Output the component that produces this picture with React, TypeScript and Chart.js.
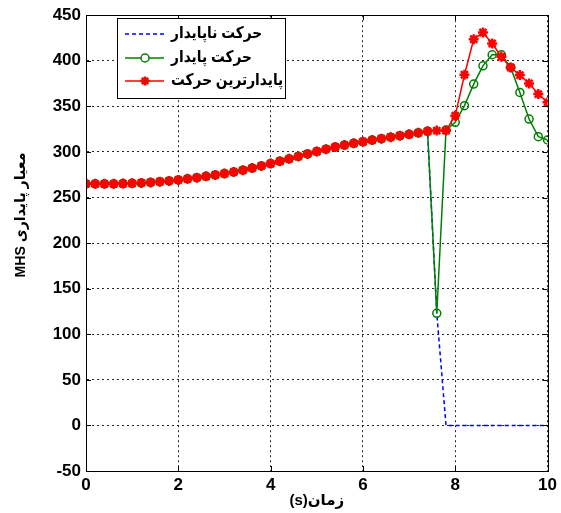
import React, { useEffect, useRef } from "react";
import { Chart, registerables } from "chart.js";

Chart.register(...registerables);

// time axis (s)
const times = [
  0, 0.2, 0.4, 0.6, 0.8, 1.0, 1.2, 1.4, 1.6, 1.8,
  2.0, 2.2, 2.4, 2.6, 2.8, 3.0, 3.2, 3.4, 3.6, 3.8,
  4.0, 4.2, 4.4, 4.6, 4.8, 5.0, 5.2, 5.4, 5.6, 5.8,
  6.0, 6.2, 6.4, 6.6, 6.8, 7.0, 7.2, 7.4, 7.6, 7.8,
  8.0, 8.2, 8.4, 8.6, 8.8, 9.0, 9.2, 9.4, 9.6, 9.8, 10.0,
];

// shared part of all three motions (t = 0 .. 7.4)
const sharedPrefix = [
  265, 265, 265, 265, 265.3, 265.6, 266, 266.6, 267.3, 268.2,
  269.3, 270.5, 271.8, 273.2, 274.7, 276.3, 278, 280, 282.3, 284.7,
  287.2, 289.8, 292.4, 295, 297.8, 300.5, 303, 305.4, 307.5, 309.4,
  311.2, 313, 314.6, 316.2, 317.8, 319.3, 321, 322.6,
];

// t = 7.6 .. 10
const unstableTail = [123, 0, 0, 0, 0, 0, 0, 0, 0, 0, 0, 0, 0];
const stableTail = [123, 324, 332.5, 350.8, 374.4, 394.5, 406.6, 406.6, 392.7, 365.3, 336.1, 316.8, 313.1];
const mostStableTail = [323.4, 323.4, 339.8, 384.7, 423.6, 431, 419, 404.4, 392.7, 384.3, 375.2, 363.5, 354.4];

const xTicks = [0, 2, 4, 6, 8, 10];
const yTicks = [-50, 0, 50, 100, 150, 200, 250, 300, 350, 400, 450];

const labelUnstable = "حرکت ناپایدار";
const labelStable = "حرکت پایدار";
const labelMostStable = "پایدارترین حرکت";
const xTitle = "زمان(s)";
const yTitle = "معیار پایداری MHS";

const BLUE = "#0000ff";
const GREEN = "#008000";
const RED = "#ff0000";
const FONT_FAMILY = '"Liberation Sans", "DejaVu Sans", Arial, sans-serif';

const toPoints = (ys: number[]) => ys.map((y, i) => ({ x: times[i], y }));

const overlayPlugin = {
  id: "matlabOverlay",
  afterDraw(chart: any) {
    const { ctx, chartArea, scales } = chart;
    const { left, right, top, bottom } = chartArea;
    ctx.save();
    // frame
    ctx.setLineDash([]);
    ctx.strokeStyle = "#000";
    ctx.lineWidth = 1;
    ctx.strokeRect(Math.round(left) + 0.5, Math.round(top) + 0.5, Math.round(right - left), Math.round(bottom - top));
    // inward ticks
    const tl = 5;
    ctx.beginPath();
    xTicks.forEach((v) => {
      const x = Math.round(scales.x.getPixelForValue(v)) + 0.5;
      ctx.moveTo(x, bottom);
      ctx.lineTo(x, bottom - tl);
      ctx.moveTo(x, top);
      ctx.lineTo(x, top + tl);
    });
    yTicks.forEach((v) => {
      const y = Math.round(scales.y.getPixelForValue(v)) + 0.5;
      ctx.moveTo(left, y);
      ctx.lineTo(left + tl, y);
      ctx.moveTo(right, y);
      ctx.lineTo(right - tl, y);
    });
    ctx.stroke();

    // legend
    const lx = 117, ly = 18, lw = 168, lh = 80;
    ctx.fillStyle = "#fff";
    ctx.fillRect(lx, ly, lw, lh);
    ctx.strokeStyle = "#000";
    ctx.lineWidth = 1;
    ctx.strokeRect(lx + 0.5, ly + 0.5, lw, lh);
    const rows = [
      { label: labelUnstable, color: BLUE, dash: [4, 3], marker: "none", y: 34 },
      { label: labelStable, color: GREEN, dash: [], marker: "circle", y: 58 },
      { label: labelMostStable, color: RED, dash: [], marker: "star", y: 81 },
    ];
    rows.forEach((r) => {
      ctx.strokeStyle = r.color;
      ctx.lineWidth = 1.5;
      ctx.setLineDash(r.dash);
      ctx.beginPath();
      ctx.moveTo(125, r.y);
      ctx.lineTo(164, r.y);
      ctx.stroke();
      ctx.setLineDash([]);
      const cx = 145;
      if (r.marker === "circle") {
        ctx.fillStyle = "#fff";
        ctx.beginPath();
        ctx.arc(cx, r.y, 4, 0, Math.PI * 2);
        ctx.fill();
        ctx.stroke();
      } else if (r.marker === "star") {
        ctx.lineWidth = 2.5;
        ctx.beginPath();
        for (let k = 0; k < 4; k++) {
          const a = (k * Math.PI) / 4;
          ctx.moveTo(cx - 4.5 * Math.cos(a), r.y - 4.5 * Math.sin(a));
          ctx.lineTo(cx + 4.5 * Math.cos(a), r.y + 4.5 * Math.sin(a));
        }
        ctx.stroke();
      }
      ctx.fillStyle = "#000";
      ctx.font = `bold 16px ${FONT_FAMILY}`;
      ctx.textBaseline = "middle";
      ctx.textAlign = "left";
      (ctx as any).direction = "rtl";
      ctx.save();
      ctx.translate(171, r.y);
      ctx.scale(0.86, 1);
      ctx.fillText(r.label, 0, 0);
      ctx.restore();
      (ctx as any).direction = "ltr";
    });

    // axis titles
    ctx.fillStyle = "#000";
    ctx.font = `bold 15px ${FONT_FAMILY}`;
    ctx.textAlign = "center";
    ctx.textBaseline = "middle";
    (ctx as any).direction = "rtl";
    ctx.fillText(xTitle, (left + right) / 2, 501);
    ctx.save();
    ctx.translate(21, 215);
    ctx.rotate(-Math.PI / 2);
    ctx.scale(0.94, 1);
    ctx.fillText(yTitle, 0, 0);
    ctx.restore();
    (ctx as any).direction = "ltr";
    ctx.restore();
  },
};

export default function App() {
  const ref = useRef<HTMLCanvasElement | null>(null);
  useEffect(() => {
    if (!ref.current) return;
    const tickFont = { family: FONT_FAMILY, size: 17, weight: "bold" as const };
    const chart = new Chart(ref.current, {
      type: "line",
      data: {
        datasets: [
          {
            label: labelUnstable,
            data: toPoints([...sharedPrefix, ...unstableTail]),
            borderColor: BLUE,
            borderWidth: 1.5,
            borderDash: [4, 3],
            pointRadius: 0,
            fill: false,
            order: 3,
          },
          {
            label: labelStable,
            data: toPoints([...sharedPrefix, ...stableTail]),
            borderColor: GREEN,
            backgroundColor: "rgba(0,0,0,0)",
            borderWidth: 1.5,
            pointStyle: "circle",
            pointRadius: 4,
            pointBorderWidth: 1.5,
            pointBorderColor: GREEN,
            pointBackgroundColor: "rgba(0,0,0,0)",
            fill: false,
            order: 2,
          },
          {
            label: labelMostStable,
            data: toPoints([...sharedPrefix, ...mostStableTail]),
            borderColor: RED,
            backgroundColor: RED,
            borderWidth: 1.5,
            pointStyle: "star",
            pointRadius: 5,
            pointBorderWidth: 2.5,
            pointBorderColor: RED,
            pointBackgroundColor: RED,
            fill: false,
            order: 1,
          },
        ],
      },
      options: {
        animation: false,
        responsive: false,
        devicePixelRatio: 1,
        layout: { padding: { left: 0, top: 14, right: 13, bottom: 0 } },
        plugins: { legend: { display: false }, tooltip: { enabled: false } },
        elements: { line: { tension: 0 } },
        scales: {
          x: {
            type: "linear",
            min: 0,
            max: 10,
            ticks: { stepSize: 2, font: tickFont, color: "#000", padding: 4, maxRotation: 0, autoSkip: false },
            grid: { color: "rgba(0,0,0,0.85)", lineWidth: 1, drawTicks: false },
            border: { display: true, color: "#000", width: 1, dash: [2, 3] },
            afterFit: (s: any) => {
              s.height = 42;
            },
          },
          y: {
            type: "linear",
            min: -50,
            max: 450,
            ticks: { stepSize: 50, font: tickFont, color: "#000", padding: 5, autoSkip: false },
            grid: { color: "rgba(0,0,0,0.85)", lineWidth: 1, drawTicks: false },
            border: { display: true, color: "#000", width: 1, dash: [2, 3] },
            afterFit: (s: any) => {
              s.width = 86;
            },
          },
        },
      },
      plugins: [overlayPlugin],
    });
    return () => chart.destroy();
  }, []);
  return (
    <div style={{ position: "absolute", left: 0, top: 0, width: 561, height: 513, background: "#fff" }}>
      <canvas ref={ref} width={561} height={513} style={{ display: "block" }} />
    </div>
  );
}
